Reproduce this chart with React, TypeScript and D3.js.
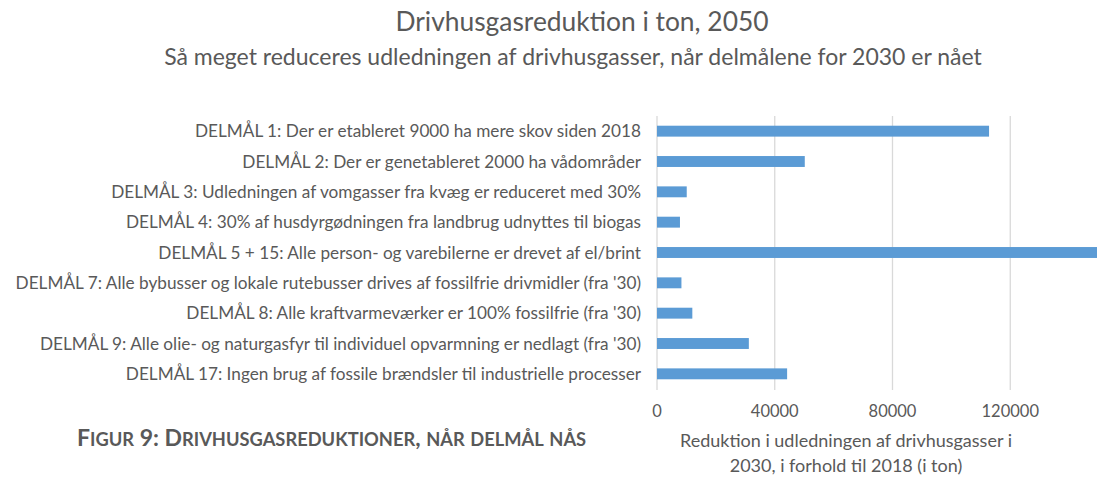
import React, { useRef, useEffect } from 'react';
import * as d3 from 'd3';

const categories = [
  'DELMÅL 1: Der er etableret 9000 ha mere skov siden 2018',
  'DELMÅL 2: Der er genetableret 2000 ha vådområder',
  'DELMÅL 3: Udledningen af vomgasser fra kvæg er reduceret med 30%',
  'DELMÅL 4: 30% af husdyrgødningen fra landbrug udnyttes til biogas',
  'DELMÅL 5 + 15: Alle person- og varebilerne er drevet af el/brint',
  "DELMÅL 7: Alle bybusser og lokale rutebusser drives af fossilfrie drivmidler (fra '30)",
  "DELMÅL 8: Alle kraftvarmeværker er 100% fossilfrie (fra '30)",
  "DELMÅL 9: Alle olie- og naturgasfyr til individuel opvarmning er nedlagt (fra '30)",
  'DELMÅL 17: Ingen brug af fossile brændsler til industrielle processer',
];
const reductions = [112800, 50200, 10100, 7800, 156000, 8300, 12000, 31200, 44200];
const tickValues = [0, 40000, 80000, 120000];

const FONT = 'Lato, "Open Sans", sans-serif';
const GREY = '#595959';

const App = () => {
  const svgRef = useRef<SVGSVGElement>(null);
  const width = 1097;
  const height = 477;

  useEffect(() => {
    const svg = d3.select(svgRef.current);
    svg.selectAll('*').remove();

    // plot area (the original is cut off on the right, the 160000 line falls outside)
    const x = d3.scaleLinear().domain([0, 160000]).range([657, 1128]);
    const y = d3.scaleBand().domain(categories).range([116, 389]).paddingInner(0.64).paddingOuter(0.32);

    svg.append('g')
      .selectAll('line')
      .data(tickValues)
      .enter()
      .append('line')
      .attr('x1', d => x(d))
      .attr('x2', d => x(d))
      .attr('y1', 116)
      .attr('y2', 390)
      .attr('stroke', '#d9d9d9')
      .attr('stroke-width', 1.3);

    svg.append('g')
      .selectAll('rect')
      .data(reductions)
      .enter()
      .append('rect')
      .attr('x', x(0))
      .attr('y', (d, i) => y(categories[i]))
      .attr('width', d => x(d) - x(0))
      .attr('height', y.bandwidth())
      .attr('fill', '#5b9bd5');

    svg.append('g')
      .selectAll('text')
      .data(categories)
      .enter()
      .append('text')
      .attr('x', 641)
      .attr('y', d => y(d) + y.bandwidth() / 2)
      .attr('dy', '0.35em')
      .attr('text-anchor', 'end')
      .style('font-family', FONT)
      .style('font-size', '17.2px')
      .style('fill', GREY)
      .text(d => d);

    svg.append('g')
      .selectAll('text')
      .data(tickValues)
      .enter()
      .append('text')
      .attr('x', d => x(d))
      .attr('y', 411)
      .attr('dy', '0.35em')
      .attr('text-anchor', 'middle')
      .style('font-family', FONT)
      .style('font-size', '16.5px')
      .style('fill', GREY)
      .text(d => String(d));

    // axis title
    const axisTitle = ['Reduktion i udledningen af drivhusgasser i', '2030, i forhold til 2018 (i ton)'];
    svg.append('g')
      .selectAll('text')
      .data(axisTitle)
      .enter()
      .append('text')
      .attr('x', 846)
      .attr('y', (d, i) => 441 + i * 25)
      .attr('dy', '0.35em')
      .attr('text-anchor', 'middle')
      .style('font-family', FONT)
      .style('font-size', '18px')
      .style('fill', GREY)
      .text(d => d);

    svg.append('text')
      .attr('x', 582)
      .attr('y', 22)
      .attr('dy', '0.35em')
      .attr('text-anchor', 'middle')
      .style('font-family', FONT)
      .style('font-size', '26.4px')
      .style('fill', GREY)
      .text('Drivhusgasreduktion i ton, 2050');

    svg.append('text')
      .attr('x', 573)
      .attr('y', 57)
      .attr('dy', '0.35em')
      .attr('text-anchor', 'middle')
      .style('font-family', FONT)
      .style('font-size', '23px')
      .style('fill', GREY)
      .text('Så meget reduceres udledningen af drivhusgasser, når delmålene for 2030 er nået');

    // figure caption in small caps: lowercase letters are drawn as smaller capitals
    const caption = 'Figur 9: Drivhusgasreduktioner, når delmål nås';
    const parts: { t: string; small: boolean }[] = [];
    for (const ch of caption) {
      const small = ch !== ch.toUpperCase();
      const last = parts[parts.length - 1];
      if (last && last.small === small) last.t += ch;
      else parts.push({ t: ch, small });
    }
    const cap = svg.append('text')
      .attr('x', 77)
      .attr('y', 440)
      .attr('dy', '0.35em')
      .style('font-family', FONT)
      .style('font-weight', 'bold')
      .style('fill', GREY);
    cap.selectAll('tspan')
      .data(parts)
      .enter()
      .append('tspan')
      .style('font-size', d => (d.small ? '18.3px' : '23px'))
      .text(d => d.t.toUpperCase());
  }, []);

  return (
    <svg
      ref={svgRef}
      width={width}
      height={height}
      style={{ position: 'absolute', left: 0, top: 0, background: '#fff' }}
    />
  );
};

export default App;
